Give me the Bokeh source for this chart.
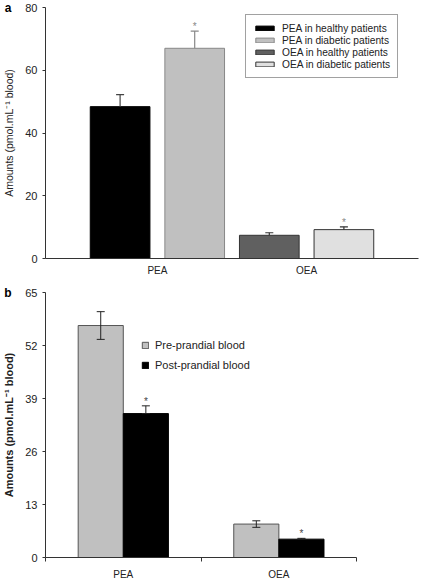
from bokeh.plotting import figure
from bokeh.models import (ColumnDataSource, Whisker, TeeHead, Legend, LegendItem, FixedTicker,
                          CustomJSTickFormatter, Range1d, LinearAxis)
from bokeh.layouts import column
from bokeh.embed import file_html
from bokeh.resources import INLINE
from bokeh.core.properties import value

FONT = "Liberation Sans"
AXIS_COLOR = "#333333"
TEXT_COLOR = "#222222"

# ---------------- Panel a data ----------------
a_categories = ["PEA", "OEA"]
a_series = ["PEA in healthy patients", "PEA in diabetic patients",
            "OEA in healthy patients", "OEA in diabetic patients"]
a_series_category = ["PEA", "PEA", "OEA", "OEA"]
a_values = [48.4, 67.0, 7.4, 9.2]
a_errors = [3.8, 5.5, 0.8, 0.9]
a_significant = [False, True, False, True]
a_yticks = [0, 20, 40, 60, 80]

# ---------------- Panel b data ----------------
b_categories = ["PEA", "OEA"]
b_series = ["Pre-prandial blood", "Post-prandial blood"]
b_pre_values = [56.9, 8.2]
b_pre_errors = [3.4, 0.8]
b_post_values = [35.3, 4.5]
b_post_errors = [1.9, 0.2]
b_post_significant = [True, True]
b_yticks = [0, 13, 26, 39, 52, 65]

y_label = "Amounts (pmol.mL\u207b\u00b9 blood)"

a_fill = ["#000000", "#c0c0c0", "#606060", "#e0e0e0"]
a_line = ["#000000", "#888888", "#333333", "#333333"]
a_whisk = ["#444444", "#888888", "#333333", "#333333"]


def style_common(p):
    p.xgrid.visible = False
    p.ygrid.visible = False
    p.outline_line_color = None
    p.background_fill_color = "white"
    p.border_fill_color = "white"


def cat_formatter(cats):
    return CustomJSTickFormatter(args=dict(labels=cats),
                                 code="return labels[Math.floor(tick)] || '';")


def panel_letter(p, letter, top_tick):
    # panel letter drawn as the single label of an outer, line-less left axis
    ax = LinearAxis(ticker=FixedTicker(ticks=[top_tick], minor_ticks=[]),
                    formatter=CustomJSTickFormatter(args=dict(t=letter), code="return t;"),
                    axis_line_color=None, major_tick_line_color=None, minor_tick_line_color=None,
                    major_tick_out=0, major_tick_in=0, minor_tick_out=0, minor_tick_in=0,
                    major_label_standoff=-11, major_label_text_font=FONT,
                    major_label_text_font_size="12px", major_label_text_font_style="bold",
                    major_label_text_color="#000000")
    p.add_layout(ax, "left")


def style_yaxis(ax, ticks, bold):
    ax.ticker = FixedTicker(ticks=ticks, minor_ticks=[])
    ax.major_tick_out = 3
    ax.major_tick_in = 0
    ax.minor_tick_line_color = None
    ax.major_tick_line_color = AXIS_COLOR
    ax.axis_line_color = AXIS_COLOR
    ax.major_label_standoff = 5
    ax.major_label_text_font = FONT
    ax.major_label_text_font_size = "11px"
    ax.major_label_text_color = TEXT_COLOR
    ax.axis_label = y_label
    ax.axis_label_text_font = FONT
    ax.axis_label_text_font_size = "11px" if bold else "10.5px"
    ax.axis_label_text_font_style = "bold" if bold else "normal"
    ax.axis_label_text_color = TEXT_COLOR
    ax.axis_label_standoff = 7


# ================= Panel a =================
pa = figure(width=424, height=278, x_range=Range1d(-0.25, 2.25), y_range=Range1d(0, 80),
            output_backend="svg", toolbar_location=None,
            min_border_top=7, min_border_right=6, min_border_left=0, min_border_bottom=0)
style_common(pa)

bar_w_a = 0.4
step_a = 0.5
xs_a = []
count = {}
for cat in a_series_category:
    k = count.get(cat, 0)
    count[cat] = k + 1
    xs_a.append(a_categories.index(cat) + 0.5 + (k - 0.5) * step_a)

items = []
for i, name in enumerate(a_series):
    r = pa.vbar(x=[xs_a[i]], top=[a_values[i]], bottom=0, width=bar_w_a,
                fill_color=a_fill[i], line_color=a_line[i], line_width=1)
    items.append(LegendItem(label=name, renderers=[r]))

src_wa = ColumnDataSource(dict(x=xs_a, lower=a_values,
                               upper=[v + e for v, e in zip(a_values, a_errors)],
                               c=a_whisk))
wa = Whisker(source=src_wa, base="x", lower="lower", upper="upper", dimension="height",
             line_color="c", line_width=1.2, lower_head=None,
             upper_head=TeeHead(size=8, line_color="c", line_width=1.2), level="overlay")
pa.add_layout(wa)

sx = [x for x, s in zip(xs_a, a_significant) if s]
sy = [v + e for v, e, s in zip(a_values, a_errors, a_significant) if s]
pa.text(x=sx, y=sy, text=["*"] * len(sx), text_align="center", text_baseline="bottom",
        y_offset=1, text_font=value(FONT), text_font_size="10px", text_color="#888888")

pa.xaxis.ticker = FixedTicker(ticks=[i + 0.5 for i in range(len(a_categories))], minor_ticks=[])
pa.xaxis.formatter = cat_formatter(a_categories)
pa.xaxis.major_tick_line_color = None
pa.xaxis.major_tick_out = 0
pa.xaxis.major_tick_in = 0
pa.xaxis.minor_tick_line_color = None
pa.xaxis.major_label_standoff = 6
pa.xaxis.axis_line_color = AXIS_COLOR
pa.xaxis.major_label_text_font = FONT
pa.xaxis.major_label_text_font_size = "10px"
pa.xaxis.major_label_text_color = TEXT_COLOR

style_yaxis(pa.yaxis[0], a_yticks, bold=False)

leg_a = Legend(items=items, location=(200, 180), border_line_color="#444444", border_line_width=1,
               background_fill_color="white", background_fill_alpha=1.0,
               glyph_width=23, glyph_height=6, label_height=12, spacing=0, padding=7,
               label_standoff=6, margin=0, label_text_font=FONT, label_text_font_size="10.2px",
               label_text_color=TEXT_COLOR)
pa.add_layout(leg_a)

panel_letter(pa, "a", a_yticks[-1])

# ================= Panel b =================
n_b = len(b_categories)
pb = figure(width=424, height=304, x_range=Range1d(0, n_b * 374.0 / 312.0), y_range=Range1d(0, 65),
            output_backend="svg", toolbar_location=None,
            min_border_top=14, min_border_right=6, min_border_left=0, min_border_bottom=0)
style_common(pb)

bar_w_b = 0.29
x_pre = [i + 0.5 - bar_w_b / 2 for i in range(n_b)]
x_post = [i + 0.5 + bar_w_b / 2 for i in range(n_b)]

r_pre = pb.vbar(x=x_pre, top=b_pre_values, bottom=0, width=bar_w_b,
                fill_color="#c0c0c0", line_color="#555555", line_width=1)
r_post = pb.vbar(x=x_post, top=b_post_values, bottom=0, width=bar_w_b,
                 fill_color="#000000", line_color="#000000", line_width=1)

src_wb = ColumnDataSource(dict(
    x=x_pre + x_post,
    lower=[v - e for v, e in zip(b_pre_values, b_pre_errors)] + b_post_values,
    upper=[v + e for v, e in zip(b_pre_values, b_pre_errors)] +
          [v + e for v, e in zip(b_post_values, b_post_errors)]))
wb = Whisker(source=src_wb, base="x", lower="lower", upper="upper", dimension="height",
             line_color="#222222", line_width=1,
             lower_head=TeeHead(size=8, line_color="#222222", line_width=1),
             upper_head=TeeHead(size=8, line_color="#222222", line_width=1), level="overlay")
pb.add_layout(wb)

sxb = [x for x, s in zip(x_post, b_post_significant) if s]
syb = [v + e for v, e, s in zip(b_post_values, b_post_errors, b_post_significant) if s]
pb.text(x=sxb, y=syb, text=["*"] * len(sxb), text_align="center", text_baseline="bottom",
        y_offset=1, text_font=value(FONT), text_font_size="10px", text_color="#444444")

pb.xaxis.ticker = FixedTicker(ticks=[i + 0.5 for i in range(n_b)],
                              minor_ticks=[i for i in range(n_b + 1)])
pb.xaxis.formatter = cat_formatter(b_categories)
pb.xaxis.bounds = (0, n_b)
pb.xaxis.major_tick_line_color = None
pb.xaxis.major_tick_out = 4
pb.xaxis.major_tick_in = 0
pb.xaxis.minor_tick_line_color = AXIS_COLOR
pb.xaxis.minor_tick_out = 4
pb.xaxis.minor_tick_in = 0
pb.xaxis.major_label_standoff = 7
pb.xaxis.axis_line_color = AXIS_COLOR
pb.xaxis.major_label_text_font = FONT
pb.xaxis.major_label_text_font_size = "10px"
pb.xaxis.major_label_text_color = TEXT_COLOR

style_yaxis(pb.yaxis[0], b_yticks, bold=True)

leg_b = Legend(items=[LegendItem(label=b_series[0], renderers=[r_pre]),
                      LegendItem(label=b_series[1], renderers=[r_post])],
               location=(96, 186), border_line_color=None, background_fill_alpha=0,
               glyph_width=8, glyph_height=8, label_height=12, spacing=8, padding=0,
               label_standoff=6, margin=0, label_text_font=FONT, label_text_font_size="11px",
               label_text_color=TEXT_COLOR)
pb.add_layout(leg_b)

panel_letter(pb, "b", b_yticks[-1])

layout = column(pa, pb, spacing=0)
open("out.html", "w").write(file_html(layout, INLINE))
